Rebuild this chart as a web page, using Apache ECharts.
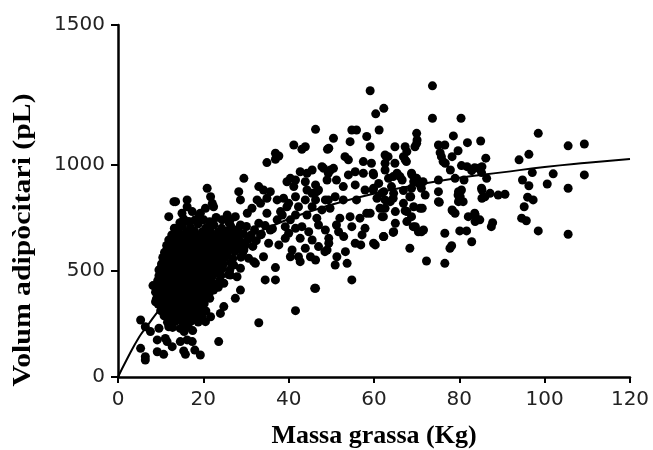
<!DOCTYPE html>
<html>
<head>
<meta charset="utf-8">
<script src="https://cdn.jsdelivr.net/npm/echarts@6/dist/echarts.min.js"></script>
<style>html,body{margin:0;padding:0;background:#fff}#c{width:653px;height:450px}</style>
</head>
<body>
<div id="c"></div>
<script>
// ---- axis ticks ----
var xTickValues = [0, 20, 40, 60, 80, 100, 120];
var yTickValues = [0, 500, 1000, 1660];
var yTickLabels = ['0', '500', '1000', '1500'];
var xTitle = 'Massa grassa (Kg)';
var yTitle = 'Volum adipòcitari (pL)';

// ---- fitted curve ----
var curveX = [0, 2, 5, 7, 10, 15, 20, 25, 30, 40, 50, 60, 70, 80, 90, 100, 110, 120];
var curveY = [0, 80, 190, 245, 325, 440, 525, 595, 655, 745, 812, 865, 905, 940, 965, 990, 1010, 1028];

// ---- scattered points: low-mass outliers and edges ----
var lowOutliers = [
[5.3,269],[6.4,237],[7.6,214],[9.6,230],[11.9,237],[11.1,182],[11.5,167],[14.6,167],[16.2,175],[17.4,167],
[5.3,135],[6.4,96],[6.4,80],[9.2,119],[10.7,107],[12.7,143],[15.4,123],[15.8,107],[18.0,127],[19.3,104],
[9.2,175],[23.6,167],[8.2,431],[8.8,355],[9.6,505],[12.3,575],[13.9,678],[15.0,654],[15.4,745],[16.6,733],
[28.7,410],[27.5,371],[24.8,332],[24.0,300],[21.7,284],[20.5,261],[27.9,473],[26.3,481],[24.8,442],[22.4,410],
[20.1,379],[33.0,256],[41.6,313],[46.1,418],[34.5,458],[36.9,458],[36.9,516],[30.6,560],[31.8,544],[34.1,567],
[29.5,599],[27.1,528],[28.7,513],[25.6,583],[23.6,599],[32.2,536]
];

// ---- dense cluster (small fat mass) ----
var denseCluster = [
[13.2,702],[15.1,712],[17.0,705],[18.8,722],[20.6,703],[22.5,716],[24.3,701],[26.4,712],[28.2,698],[30.1,710],[32.0,695],[34.5,714],[36.2,699],
[14.1,686],[16.0,684],[17.9,689],[19.8,685],[21.6,688],[23.5,683],[25.3,687],[27.2,684],
[12.6,670],[14.4,675],[16.3,668],[18.1,674],[19.9,671],[21.8,677],[23.7,669],[25.5,674],[27.3,668],[29.4,676],[31.2,670],[33.6,673],
[13.0,658],[14.9,656],[16.8,660],[18.6,657],[20.5,659],[22.3,655],[24.2,660],[26.0,657],[28.0,659],
[11.9,646],[13.8,641],[15.6,648],[17.5,643],[19.4,647],[21.2,640],[23.0,649],[24.9,644],[26.8,647],[28.6,641],[30.5,648],[32.4,643],
[12.4,632],[14.2,630],[16.1,634],[18.0,631],[19.9,633],[21.7,629],[23.6,634],[25.4,631],[27.3,633],
[11.4,620],[13.1,615],[15.0,621],[16.9,616],[18.7,619],[20.5,614],[22.4,622],[24.2,617],[26.0,620],[27.9,615],[29.8,621],[31.6,616],
[11.9,604],[13.8,602],[15.6,606],[17.5,603],[19.3,605],[21.2,601],[23.0,606],[24.9,603],[26.8,605],
[10.9,588],[12.7,593],[14.5,587],[16.3,592],[18.2,589],[20.0,594],[21.9,586],[23.7,591],[25.6,588],[27.4,593],[29.2,587],
[11.5,576],[13.4,574],[15.2,578],[17.1,575],[18.9,577],[20.8,573],[22.6,578],[24.4,575],
[10.5,564],[12.3,559],[14.1,565],[15.9,560],[17.8,563],[19.6,558],[21.4,566],[23.3,561],[25.1,564],[26.9,559],[28.8,565],
[11.2,548],[13.0,546],[14.9,550],[16.7,547],[18.5,549],[20.3,545],[22.2,550],[24.0,547],
[10.2,533],[12.0,538],[13.8,532],[15.6,537],[17.4,534],[19.2,539],[21.1,531],[22.9,536],[24.7,533],[26.5,538],
[10.9,520],[12.7,518],[14.5,522],[16.3,519],[18.1,521],[20.0,517],[21.8,522],[23.6,519],
[9.9,510],[11.6,505],[13.4,511],[15.3,506],[17.1,509],[18.9,504],[20.8,512],[22.6,507],[24.4,510],[26.2,505],
[10.6,494],[12.4,492],[14.2,496],[16.0,493],[17.9,495],[19.6,491],[21.4,496],[23.2,493],
[9.6,478],[11.4,483],[13.2,477],[15.0,482],[16.8,479],[18.6,484],[20.4,476],[22.3,481],[24.1,478],[25.9,483],
[10.3,466],[12.1,464],[13.9,468],[15.8,465],[17.6,467],[19.4,463],[21.2,468],
[9.3,454],[11.1,449],[12.9,455],[14.7,450],[16.5,453],[18.3,448],[20.1,456],[21.9,451],[23.8,454],
[10.0,438],[11.8,436],[13.6,440],[15.4,437],[17.2,439],[19.0,435],[20.8,440],[22.6,437],
[9.0,423],[10.8,428],[12.6,422],[14.4,427],[16.2,424],[18.0,429],[19.8,421],[21.7,426],[23.5,423],
[9.8,411],[11.6,409],[13.4,413],[15.2,410],[17.0,412],[18.8,408],[20.6,413],
[8.8,400],[10.6,395],[12.4,401],[14.2,396],[16.0,399],[17.8,394],[19.6,402],[21.4,397],
[9.9,384],[11.7,382],[13.5,386],[15.3,383],[17.1,385],[18.9,381],[20.7,386],
[9.0,368],[10.8,373],[12.6,367],[14.4,372],[16.2,369],[18.0,374],[19.8,366],[21.5,371],
[10.2,356],[12.0,354],[13.8,358],[15.6,355],[17.4,357],[19.2,353],
[9.4,344],[11.2,339],[13.0,345],[14.8,340],[16.6,343],[18.4,338],[20.2,346],
[10.8,328],[12.6,326],[14.4,330],[16.2,327],[18.0,329],[19.8,325],
[10.0,313],[11.8,318],[13.6,312],[15.4,317],[17.2,314],[19.0,319],[20.6,311],
[11.6,300],[13.4,298],[15.2,302],[17.0,299],[18.8,301],
[10.8,289],[12.6,284],[14.4,290],[16.2,285],[18.0,288],[19.7,283],
[12.4,273],[14.2,271],[16.0,275],[17.8,272],
[11.6,258],[13.4,263],[15.2,257],[17.0,262],[18.8,259],
[12.8,234],[14.6,229],[16.4,235],[15.5,214],[17.5,219],
[14.5,728],[18.0,740],[21.5,732],[23.0,752],[19.0,758],[26.0,728]
];

// ---- middle range (20-60 kg) ----
var midCluster = [
[20.9,890],[13.1,827],[11.9,756],[21.7,850],[22.1,819],[22.4,803],[20.5,796],[19.3,772],[16.2,803],[17.4,780],
[15.0,772],[13.5,827],[16.2,835],[27.5,756],[25.6,764],[24.4,741],[20.1,741],[28.7,717],[26.3,741],
[36.9,1055],[37.7,1042],[34.9,1011],[36.9,1027],[29.5,937],[33.0,898],[34.1,882],[35.7,874],[34.9,843],[37.3,835],
[38.8,843],[39.6,803],[38.1,780],[33.4,819],[32.6,835],[28.3,874],[28.7,835],[31.4,796],[30.3,772],
[33.0,725],[34.9,772],[38.5,764],[37.3,741],[39.2,709],[35.7,693],[33.4,670],[39.2,654],[37.7,623],[35.3,631],
[46.3,1168],[41.2,1094],[43.9,1086],[43.1,1074],[47.8,992],[49.4,1079],[49.0,929],[49.8,976],[42.7,968],[44.3,961],
[45.5,976],[40.4,937],[41.6,929],[41.2,898],[39.6,921],[43.9,921],[44.3,882],[46.3,906],[45.5,866],[46.6,874],
[48.6,835],[46.3,835],[43.9,835],[41.6,850],[40.0,819],[42.3,803],[45.5,803],[47.8,788],[46.6,749],[44.3,764],
[41.6,764],[40.4,741],[43.1,709],[47.0,717],[44.7,685],[41.6,701],[40.0,678],[42.7,654],[45.5,646],[47.0,615],
[43.9,607],[40.8,599],[42.3,567],[45.1,567],[46.3,552],[42.7,544],[40.4,567],[46.3,418],[47.0,882],[48.2,984],
[51.7,685],[48.6,693],[49.4,654],[52.9,662],[57.2,670],[55.6,631],[49.4,631],[49.0,599],[51.3,567],[53.3,591],
[50.9,528],[53.7,536],[54.8,458],[56.9,623],[59.9,631],[54.8,709],[48.5,591],[57.9,701],[51.2,717],
[58.3,1134],[59.1,1086],[54.8,1165],[55.9,1165],[54.4,1110],[50.5,1126],[49.1,1074],[53.2,1039],[54.0,1024],[57.5,1016],
[59.4,1008],[59.8,961],[57.5,961],[55.6,968],[54.0,953],[50.5,984],[49.3,961],[51.2,929],[52.8,898],[55.6,906],
[57.9,882],[59.8,882],[61.8,866],[62.6,835],[64.5,843],[64.1,898],[61.4,796],[62.2,756],[59.1,772],[56.7,749],
[54.4,756],[52.0,749],[49.7,796],[49.3,835],[50.9,850],[52.8,835],[55.9,835],[58.3,772]
];

// ---- high fat mass (60+ kg) ----
var highCluster = [
[59.1,1350],[73.7,1373],[60.4,1241],[62.3,1267],[73.7,1220],[80.4,1220],[61.2,1165],[98.5,1149],[105.5,1090],[109.3,1099],
[109.3,953],[105.5,890],[100.6,910],[102.0,958],[96.3,1050],[94.0,1024],[97.1,964],[94.8,929],[96.3,902],[96.0,848],
[97.3,835],[95.2,803],[94.6,749],[95.7,737],[86.2,1032],[85.0,1113],[81.9,1105],[78.6,1137],[79.7,1067],[86.4,937],
[85.2,890],[86.0,850],[87.2,866],[89.1,858],[90.7,862],[83.6,772],[84.8,741],[87.8,728],[82.1,756],[78.4,784],
[75.3,824],[71.3,796],[68.6,850],[67.3,784],[68.8,756],[80.5,882],[79.7,858],[80.9,827],[80.0,835],[85.2,964],
[83.6,987],[80.5,997],[81.1,929],[82.9,973],[75.5,1058],[76.2,1016],[75.1,1094],[76.6,1094],[75.8,1039],[75.1,929],
[75.1,874],[70.0,1149],[70.0,1102],[69.6,1086],[67.3,1086],[64.9,1086],[66.9,1039],[67.6,1016],[64.9,1008],[62.6,1008],
[63.3,1039],[66.1,945],[64.5,945],[68.8,961],[70.0,937],[71.5,921],[71.1,890],[68.8,890],[68.4,850],[66.9,879],
[62.2,662],[64.5,682],[68.4,607],[72.3,547],[76.6,536],[77.8,607],[78.2,619],[76.6,678],[80.1,689],[81.7,689],
[82.9,638],[87.5,709],[98.5,689],[105.5,673],[71.1,685],[69.2,709],
[70.1,1118],[78.3,1039],[76.7,1008],[77.9,976],[67.7,1063],[62.6,1047],[67.3,1024],[62.6,976],[65.4,961],[68.9,953],
[59.9,953],[61.1,913],[63.4,937],[66.6,929],[69.3,921],[70.8,906],[79.8,874],[75.1,827],[72.0,858],[64.6,866],
[62.3,874],[59.9,890],[60.7,843],[63.8,827],[66.9,819],[69.3,803],[70.8,796],[78.3,788],[79.8,827],[62.6,796],
[65.0,780],[67.7,780],[61.9,756],[65.0,725],[67.7,733],[69.7,709],[71.6,693],[70.4,685],[64.6,685],[62.3,662],
[60.3,623],[81.8,992],[84.5,984],[85.3,992],[79.0,937],[80.2,850],[85.3,882],[85.3,843],[83.7,764],[83.7,733],[79.0,772]
];

var curveData = curveX.map(function (x, i) { return [x, curveY[i]]; });
var allPoints = lowOutliers.concat(denseCluster, midCluster, highCluster);

var chart = echarts.init(document.getElementById('c'), null, { renderer: 'canvas' });
var axisLineStyle = { color: '#000', width: 2.5 };
var labelStyle = { color: '#222', fontFamily: 'DejaVu Sans', fontSize: 20 };

chart.setOption({
  animation: false,
  backgroundColor: '#fff',
  grid: { left: 118, right: 23, top: 25, bottom: 73, containLabel: false, outerBoundsMode: 'none' },
  xAxis: {
    type: 'value', min: 0, max: 120, interval: 20,
    name: xTitle, nameLocation: 'middle', nameGap: 46,
    nameTextStyle: { fontFamily: 'Liberation Serif', fontWeight: 'bold', fontSize: 26, color: '#000' },
    axisLine: { show: true, lineStyle: axisLineStyle },
    axisTick: { show: true, length: 6, lineStyle: { color: '#000', width: 2 } },
    axisLabel: Object.assign({ margin: 13 }, labelStyle),
    splitLine: { show: false }
  },
  yAxis: {
    type: 'value', min: 0, max: yTickValues[yTickValues.length - 1],
    axisLine: { show: true, lineStyle: axisLineStyle },
    axisTick: { show: true, length: 7, customValues: yTickValues, lineStyle: { color: '#000', width: 2 } },
    axisLabel: Object.assign({
      margin: 13, customValues: yTickValues,
      formatter: function (v) { var i = yTickValues.indexOf(v); return i >= 0 ? yTickLabels[i] : ''; }
    }, labelStyle),
    splitLine: { show: false }
  },
  graphic: [{
    type: 'text', x: 24, y: 240, rotation: Math.PI / 2, scaleX: 1.19,
    style: { text: yTitle, textAlign: 'center', textVerticalAlign: 'middle',
      font: 'bold 25px "Liberation Serif"', fill: '#000' }
  }],
  series: [
    { type: 'scatter', data: allPoints, symbol: 'circle', symbolSize: 9,
      itemStyle: { color: '#000', opacity: 1 }, emphasis: { disabled: true }, z: 2 },
    { type: 'line', data: curveData, smooth: true, showSymbol: false,
      lineStyle: { color: '#000', width: 2 }, z: 3 }
  ]
});
</script>
</body>
</html>
